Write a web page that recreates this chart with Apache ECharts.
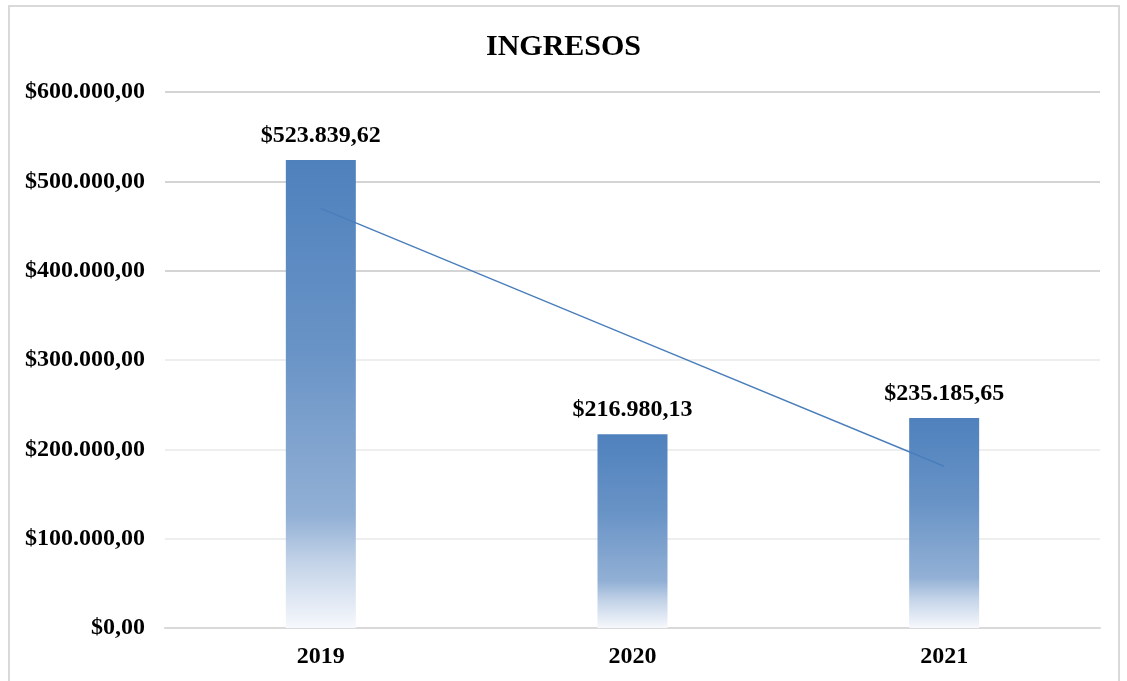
<!DOCTYPE html>
<html>
<head>
<meta charset="utf-8">
<script src="https://cdn.jsdelivr.net/npm/echarts@6/dist/echarts.min.js"></script>
<style>
  html, body { margin: 0; padding: 0; background: #fff; }
  #frame { position: absolute; left: 8px; top: 5px; width: 1112px; height: 690px; border: 2px solid #d9d9d9; box-sizing: border-box; }
  #main { position: absolute; left: 0; top: 0; width: 1127px; height: 681px; }
</style>
</head>
<body>
<div id="frame"></div>
<div id="main"></div>
<script>
// datos del grafico
var years = ['2019', '2020', '2021'];
var ingresos = [523839.62, 216980.13, 235185.65];
// linea de tendencia
var tendencia = [469700, 325300, 181000];
var yTicks = [0, 100000, 200000, 300000, 400000, 500000, 600000];

var fontFam = '"Liberation Serif", "Times New Roman", serif';

// formato $523.839,62
function money(v) {
  var parts = v.toFixed(2).split('.');
  var ent = parts[0].replace(/\B(?=(\d{3})+(?!\d))/g, '.');
  return '$' + ent + ',' + parts[1];
}

var chart = echarts.init(document.getElementById('main'));

var option = {
  backgroundColor: 'transparent',
  animation: false,
  title: {
    text: 'INGRESOS',
    left: 'center',
    top: 27,
    textStyle: { fontFamily: fontFam, fontSize: 30, fontWeight: 'bold', color: '#000' }
  },
  grid: { left: 165, right: 27, top: 92, bottom: 53 },
  xAxis: {
    type: 'category',
    data: years,
    axisTick: { show: false },
    axisLine: { lineStyle: { color: '#d9d9d9', width: 2 } },
    axisLabel: { fontFamily: fontFam, fontSize: 24, fontWeight: 'bold', color: '#000', margin: 17 }
  },
  yAxis: {
    type: 'value',
    min: yTicks[0],
    max: yTicks[yTicks.length - 1],
    interval: 100000,
    axisLine: { show: false },
    axisTick: { show: false },
    splitLine: { lineStyle: { color: ['#d9d9d9', '#eeeeee', '#eeeeee', '#eeeeee', '#d4d4d4', '#d4d4d4', '#d4d4d4'], width: 2 } },
    axisLabel: {
      fontFamily: fontFam, fontSize: 24, fontWeight: 'bold', color: '#000', margin: 20,
      formatter: function (v) { return money(v); }
    }
  },
  series: [{
    type: 'bar',
    data: ingresos,
    barWidth: 70,
    itemStyle: {
      color: new echarts.graphic.LinearGradient(0, 0, 0, 1, [
        { offset: 0, color: '#4f81bd' },
        { offset: 0.4, color: '#6893c6' },
        { offset: 0.76, color: '#92b0d5' },
        { offset: 0.86, color: '#c3d3e8' },
        { offset: 1, color: '#f6f8fc' }
      ])
    },
    label: {
      show: true,
      position: 'top',
      distance: 12,
      fontFamily: fontFam, fontSize: 24, fontWeight: 'bold', color: '#000',
      formatter: function (p) { return money(p.value); }
    }
  }, {
    type: 'line',
    data: tendencia,
    showSymbol: false,
    symbol: 'none',
    lineStyle: { color: '#4a7ebb', width: 1.5 },
    z: 5
  }]
};

chart.setOption(option);
</script>
</body>
</html>
